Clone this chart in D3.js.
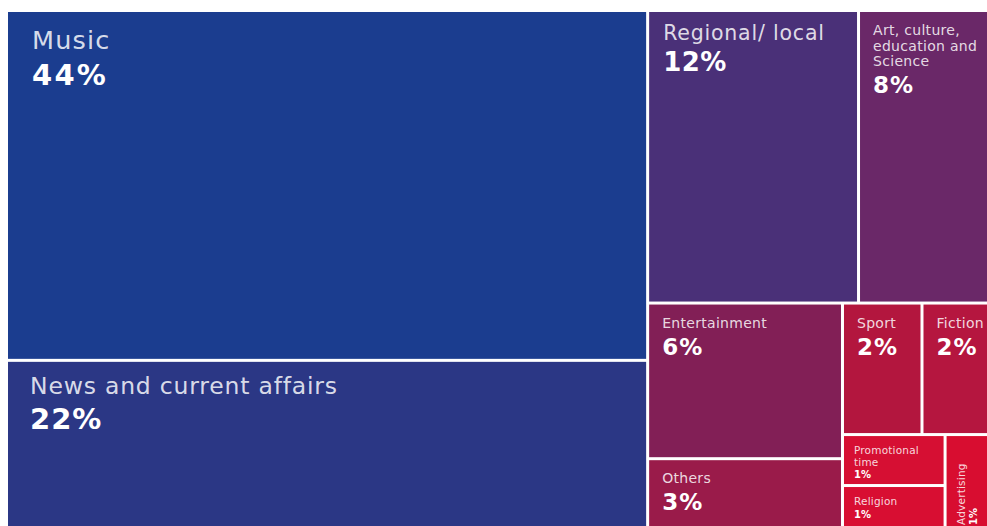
<!DOCTYPE html>
<html>
<head>
<meta charset="utf-8">
<script src="https://cdn.jsdelivr.net/npm/d3@7"></script>
<style>
  html, body { margin: 0; padding: 0; background: #ffffff; overflow: hidden; }
  svg { display: block; }
</style>
</head>
<body>
<div id="chart"></div>
<script>
// ---- data ----
const categories = [
  "Music", "News and current affairs", "Regional/ local",
  "Art, culture, education and Science", "Entertainment", "Others",
  "Sport", "Fiction", "Promotional time", "Religion", "Advertising"
];
const shares = [42.9, 21.6, 11.8, 8.0, 5.8, 2.9, 2.0, 2.0, 1.0, 1.0, 1.1];
const shareLabels = ["44%", "22%", "12%", "8%", "6%", "3%", "2%", "2%", "1%", "1%", "1%"];
const colors = ["#1b3d8f", "#2b3785", "#4a3078", "#6a2868", "#821f56", "#9a1b4a",
                "#b3163e", "#b5163f", "#d60f33", "#d80e32", "#d80d30"];
// grouping of the categories: "h" = side by side, "v" = stacked
const arrangement = ["h", ["v", 0, 1],
  ["v", ["h", 2, 3],
        ["h", ["v", 4, 5],
              ["v", ["h", 6, 7], ["h", ["v", 8, 9], 10]]]]];

// ---- chart ----
const W = 987, H = 526;
const ox = 8, oy = 12, tw = 992, th = 523;

const svg = d3.select("#chart").append("svg")
  .attr("width", W).attr("height", H);
svg.append("rect").attr("width", W).attr("height", H).attr("fill", "#ffffff");

function build(spec) {
  if (typeof spec === "number") return { index: spec };
  return { dir: spec[0], children: spec.slice(1).map(build) };
}
const root = d3.hierarchy(build(arrangement))
  .sum(d => d.index !== undefined ? shares[d.index] : 0);

const tile = (node, x0, y0, x1, y1) =>
  (node.data.dir === "h" ? d3.treemapDice : d3.treemapSlice)(node, x0, y0, x1, y1);

d3.treemap().tile(tile).size([tw, th]).paddingInner(3)(root);

function tier(v) {
  if (v >= 30) return { label: 25.5, ls: 1.2, pct: 29, pls: 2.2, pad: 24, ldy: 37, pdy: 36, line: 28 };
  if (v >= 15) return { label: 23.5, ls: 0.8, pct: 29, pls: 1, pad: 22, ldy: 32, pdy: 35, line: 27 };
  if (v >= 10) return { label: 20.5, ls: 0.8, pct: 26, pls: 0.5, pad: 14, ldy: 28, pdy: 31, line: 22 };
  if (v >= 1.5) return { label: 14, ls: 0.3, pct: 23, pls: 1, pad: 13, ldy: 23, pdy: 27, line: 15.5 };
  return { label: 10.5, ls: 0.2, pct: 10, pls: 0, pad: 10, ldy: 18, pdy: 12.5, line: 11.5 };
}

const font = "'DejaVu Sans', Verdana, sans-serif";
const plot = svg.append("g").attr("transform", `translate(${ox},${oy})`);

const leaves = root.leaves();
const cell = plot.selectAll("g.cell").data(leaves).join("g")
  .attr("class", "cell")
  .attr("transform", d => `translate(${d.x0},${d.y0})`);

cell.append("rect")
  .attr("width", d => d.x1 - d.x0)
  .attr("height", d => d.y1 - d.y0)
  .attr("fill", d => colors[d.data.index]);

cell.each(function(d) {
  const i = d.data.index;
  const t = tier(shares[i]);
  let w = d.x1 - d.x0, h = d.y1 - d.y0;
  const g0 = d3.select(this);
  const g = g0.append("g");

  // measure longest word to decide rotation
  const probe = g.append("text").attr("font-family", font).attr("font-size", t.label)
    .attr("letter-spacing", t.ls);
  const words = categories[i].split(" ");
  let maxWord = 0;
  words.forEach(wd => { probe.text(wd); maxWord = Math.max(maxWord, probe.node().getComputedTextLength()); });
  probe.remove();
  if (maxWord > w - 2 * t.pad && h > w) {
    g.attr("transform", `translate(0,${h}) rotate(-90)`);
    const tmp = w; w = h; h = tmp;
  }
  const avail = w - t.pad - 4;

  const label = g.append("text")
    .attr("font-family", font)
    .attr("font-size", t.label)
    .attr("fill", "rgba(255,255,255,0.84)")
    .attr("letter-spacing", t.ls);
  let lineNo = 0;
  let tspan = label.append("tspan").attr("x", t.pad).attr("y", t.ldy);
  let line = [];
  words.forEach(wd => {
    line.push(wd);
    tspan.text(line.join(" "));
    if (line.length > 1 && tspan.node().getComputedTextLength() > avail) {
      line.pop();
      tspan.text(line.join(" "));
      line = [wd];
      lineNo++;
      tspan = label.append("tspan").attr("x", t.pad).attr("y", t.ldy + lineNo * t.line).text(wd);
    }
  });

  g.append("text")
    .attr("x", t.pad)
    .attr("y", t.ldy + lineNo * t.line + t.pdy)
    .attr("font-family", font)
    .attr("font-weight", "bold")
    .attr("font-size", t.pct)
    .attr("letter-spacing", t.pls)
    .attr("fill", "#ffffff")
    .text(shareLabels[i]);
});
</script>
</body>
</html>
